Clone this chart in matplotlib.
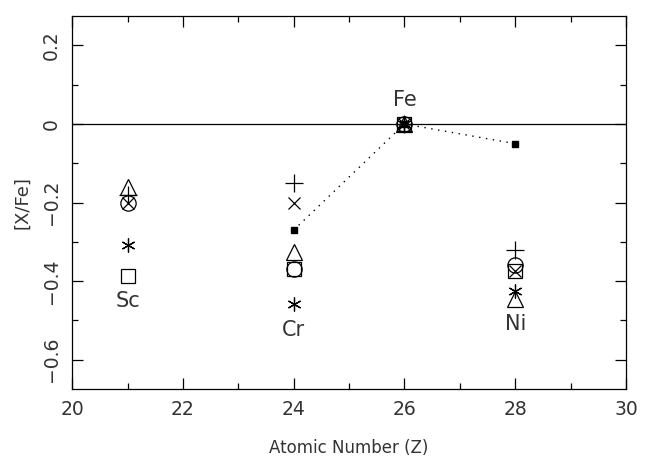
import numpy as np
import matplotlib
matplotlib.use("Agg")
import matplotlib.pyplot as plt
from matplotlib.ticker import MultipleLocator

# atomic numbers: Sc, Cr, Fe, Ni
z = [21, 24, 26, 28]
elements = ["Sc", "Cr", "Fe", "Ni"]

# [X/Fe] for each symbol set
tri = [-0.16, -0.325, 0.0, -0.445]
plus = [-0.18, -0.15, 0.0, -0.32]
circ = [-0.20, -0.37, 0.0, -0.36]
cross = [-0.20, -0.20, 0.0, -0.375]
star = [-0.307, -0.457, 0.0, -0.425]
sq = [-0.388, -0.37, 0.0, -0.375]

# filled squares joined by a dotted line
z_fill = [24, 26, 28]
fill = [-0.27, 0.0, -0.05]

# label positions
lab_y = [-0.45, -0.524, 0.062, -0.51]

plt.rcParams['font.family'] = ['DejaVu Sans']
plt.rcParams['axes.linewidth'] = 0.9
fig = plt.figure(figsize=(6.5, 4.7), dpi=100)
ax = fig.add_axes([0.111, 0.172, 0.852, 0.794])

ax.axhline(0, color="black", lw=0.9)
ax.plot(z_fill, fill, ls=(0, (1, 4)), color="black", lw=1.0)
ax.plot(z_fill, fill, ls="none", marker="s", ms=4, mfc="black", mec="black")

kw = dict(ls="none", color="black", mfc="none", mew=0.9)
ax.plot(z, tri, marker="^", ms=12, **kw)
ax.plot(z, plus, marker="+", ms=13, **kw)
ax.plot(z, circ, marker="o", ms=11, **kw)
ax.plot(z, cross, marker="x", ms=9, **kw)
ax.plot(z, star, marker=(6, 2, 0), ms=10, **kw)
ax.plot(z, sq, marker="s", ms=10, **kw)

for x, y, t in zip(z, lab_y, elements):
    ax.text(x, y, t, ha="center", va="center", fontsize=15, color="#333333")

ax.set_xlim(20, 30)
ax.set_ylim(-0.675, 0.275)
ax.xaxis.set_minor_locator(MultipleLocator(1))
ax.yaxis.set_minor_locator(MultipleLocator(0.1))
ax.tick_params(which="both", direction="in", top=True, right=True,
               labelsize=13.5, labelcolor="#333333", width=0.9)
ax.tick_params(which="major", length=8)
ax.tick_params(which="minor", length=4)
ax.set_yticks([-0.6, -0.4, -0.2, 0, 0.2])
ax.set_yticklabels(["\u22120.6", "\u22120.4", "\u22120.2", "0", "0.2"],
                   rotation=90, va="center")
ax.set_xticks([20, 22, 24, 26, 28, 30])
ax.set_xticklabels(["20", "22", "24", "26", "28", "30"])
ax.tick_params(axis="x", pad=8)
ax.tick_params(axis="y", pad=8)
ax.set_xlabel("Atomic Number (Z)", fontsize=12, labelpad=14, color="#333333")
ax.set_ylabel("[X/Fe]", fontsize=13, labelpad=8, color="#333333")

fig.savefig("out.png", dpi=100)
